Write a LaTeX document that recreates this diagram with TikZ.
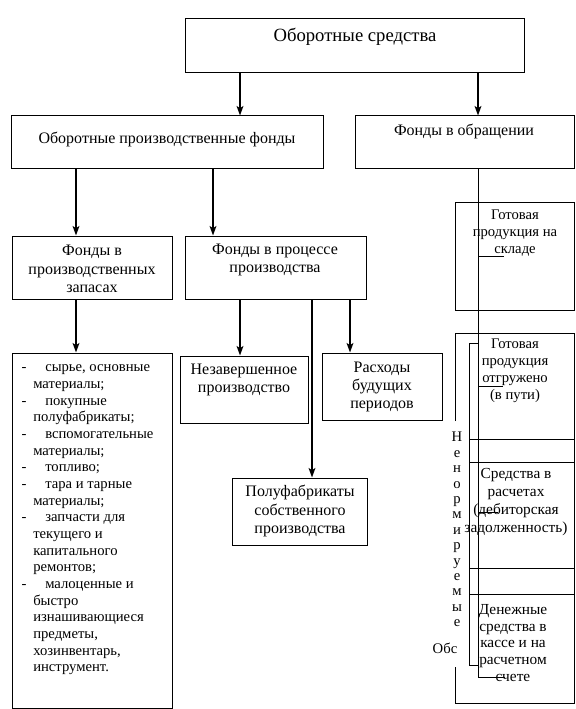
\documentclass[tikz,border=0pt]{standalone}
\usepackage{fontspec}
\setmainfont{Liberation Serif}
\usetikzlibrary{arrows.meta,positioning,fit}
\newcommand{\itm}{\llap{-\hspace{5pt}}\hspace{9pt}}
\tikzset{
  frm/.style={draw=black, line width=0.75pt, inner sep=0pt},
  txtL/.style={inner sep=0pt, align=center, font=\fontsize{14}{16}\selectfont},
  txtM/.style={inner sep=0pt, align=center, font=\fontsize{12}{13.9}\selectfont},
  txtS/.style={inner sep=0pt, align=center, font=\fontsize{11}{12.5}\selectfont},
  arr/.style={-{Stealth[length=7pt,width=5pt,inset=1.5pt]}, line width=2pt, draw=black},
  thn/.style={line width=0.75pt, draw=black},
}
\begin{document}
\begin{tikzpicture}[x=0.75pt, y=-0.75pt]
\useasboundingbox (0,0) rectangle (575,709);

% frames
\node[frm, fit={(185,19) (524,73)}] (top) {};
\node[frm, fit={(11,116) (323,169)}] (opf) {};
\node[frm, fit={(355,116) (574,169)}] (fo) {};
\node[frm, fit={(12,236) (172,299)}] (fpz) {};
\node[frm, fit={(185,236) (366,299)}] (fpp) {};
\node[frm, fit={(12,353) (172,708)}] (lst) {};
\node[frm, fit={(180,356) (308,423)}] (nzp) {};
\node[frm, fit={(322,353) (442,420)}] (rbp) {};
\node[frm, fit={(232,478) (367,545)}] (pfs) {};
\node[frm, fit={(455,203) (574,310)}] (gps) {};

% texts
\node[txtL] (ttop) at (355,37) {Оборотные средства};
\node[txtM] (topf) at (167,139) {Оборотные производственные фонды};
\node[txtM] (tfo) at (464,131) {Фонды в обращении};
\node[txtM] (tfpz) at (92,269) {Фонды в\\производственных\\запасах};
\node[txtM] (tfpp) at (275,260) {Фонды в процессе\\производства};
\node[txtM, font=\fontsize{12}{13.5}\selectfont] (tnzp) at (244,380) {Незавершенное\\производство};
\node[txtM, font=\fontsize{12}{13.5}\selectfont] (trbp) at (382,387) {Расходы\\будущих\\периодов};
\node[txtM, font=\fontsize{12}{14}\selectfont] (tpfs) at (300,511) {Полуфабрикаты\\собственного\\производства};
\node[txtS, align=left, anchor=west] (tlst) at (33,520) {\itm сырье, основные\\материалы;\\\itm покупные\\полуфабрикаты;\\\itm вспомогательные\\материалы;\\\itm топливо;\\\itm тара и тарные\\материалы;\\\itm запчасти для\\текущего и\\капитального\\ремонтов;\\\itm малоценные и\\быстро\\изнашивающиеся\\предметы,\\хозинвентарь,\\инструмент.};
\node[txtS] (tgps) at (515,233) {Готовая\\продукция на\\складе};
\node[txtS, font=\fontsize{11}{12.75}\selectfont] (tgpo) at (515,371) {Готовая\\продукция\\отгружено\\(в пути)};
\node[txtS, font=\fontsize{11.5}{13.5}\selectfont] (tsvr) at (516,502) {Средства в\\расчетах\\(дебиторская\\задолженность)};
\node[txtS, font=\fontsize{11.5}{12.5}\selectfont] (tden) at (513,643) {Денежные\\средства в\\кассе и на\\расчетном\\счете};
\node[txtS, font=\fontsize{11}{11.55}\selectfont] (tnen) at (457,529.5) {Н\\е\\н\\о\\р\\м\\и\\р\\у\\е\\м\\ы\\е};
\node[txtS] (tobs) at (445,648) {Обс};

% columns of the connectors
\coordinate (cA) at (76,0);
\coordinate (cB) at (213,0);
\coordinate (cC) at (240,0);
\coordinate (cD) at (312,0);
\coordinate (cE) at (350,0);
\coordinate (cF) at (478,0);

\draw[arr] (top.south -| cC) -- (opf.north -| cC);
\draw[arr] (top.south -| cF) -- (fo.north -| cF);
\draw[arr] (opf.south -| cA) -- (fpz.north -| cA);
\draw[arr] (opf.south -| cB) -- (fpp.north -| cB);
\draw[arr] (fpz.south -| cA) -- (lst.north -| cA);
\draw[arr] (fpp.south -| cC) -- (nzp.north -| cC);
\draw[arr] (fpp.south -| cD) -- (pfs.north -| cD);
\draw[arr] (fpp.south -| cE) -- (rbp.north -| cE);

% right column
\coordinate (r1) at (504,256);
\coordinate (r2) at (503,386);
\coordinate (r3) at (498,512);
\coordinate (r4) at (505,677);
\draw[thn] (fo.south -| cF) |- (r4);
\draw[thn] (r1 -| cF) -- (r1);
\draw[thn] (r2 -| cF) -- (r2);
\draw[thn] (r3 -| cF) -- (r3);

\draw[thn] (455,421) -- (455,333) -- (574,333) -- (574,703) -- (455,703) -- (455,667);
\draw[thn] (469,439) -- (574,439);
\draw[thn] (469,462) -- (574,462);
\draw[thn] (469,568) -- (574,568);
\draw[thn] (469,594) -- (574,594);
\draw[thn] (478,343) -- (469,343) -- (469,665) -- (478,665);
\end{tikzpicture}
\end{document}
